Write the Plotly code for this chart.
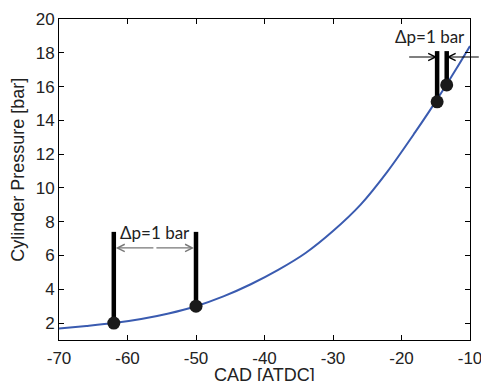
import plotly.graph_objects as go

# Cylinder pressure trace during compression
cad = [-70, -66, -62, -58, -54, -50, -46, -42, -38, -34, -30, -26, -22, -18, -16, -14, -12, -10]
pressure = [1.68, 1.83, 2.0, 2.24, 2.57, 3.0, 3.58, 4.3, 5.15, 6.15, 7.45, 9.0, 11.0, 13.3, 14.5, 15.75, 17.05, 18.4]

# Marked points: early pair and late pair, each 1 bar apart
early_cad = [-62, -50]
early_p = [2.0, 3.0]
late_cad = [-14.8, -13.4]
late_p = [15.1, 16.1]

early_bar_top = 7.4
late_bar_top = 18.1
early_arrow_p = 6.45
late_arrow_p = 17.75
late_arrow_tails = [-19.1, -8.5]
label_text = "\u0394p=1 bar"

x_ticks = [-70, -60, -50, -40, -30, -20, -10]
x_tick_text = ["-70", "-60", "-50", "-40", "-30", "-20", "-10"]
y_ticks = [2, 4, 6, 8, 10, 12, 14, 16, 18, 20]

x_title = "CAD [ATDC]"
y_title = "Cylinder Pressure [bar]"

fig = go.Figure()

fig.add_trace(go.Scatter(
    x=cad, y=pressure, mode="lines",
    line=dict(color="#3a5bb0", width=2, shape="spline", smoothing=0.8),
    hoverinfo="skip",
))

# Thick vertical markers rising from each point
for xs, ps, top in [(early_cad, early_p, early_bar_top), (late_cad, late_p, late_bar_top)]:
    for x, p in zip(xs, ps):
        fig.add_trace(go.Scatter(
            x=[x, x], y=[p, top], mode="lines",
            line=dict(color="black", width=4.5), hoverinfo="skip",
        ))

fig.add_trace(go.Scatter(
    x=early_cad + late_cad, y=early_p + late_p, mode="markers",
    marker=dict(color="#1a1a1a", size=13), hoverinfo="skip",
))

# Double-headed arrow between the early markers
mid_early = (early_cad[0] + early_cad[1]) / 2
for head in early_cad:
    fig.add_annotation(
        x=head, y=early_arrow_p, ax=mid_early, ay=early_arrow_p,
        xref="x", yref="y", axref="x", ayref="y",
        text="", showarrow=True, arrowhead=5, arrowsize=1.2,
        arrowwidth=1.2, arrowcolor="#777777", standoff=2,
    )
fig.add_annotation(
    x=mid_early, y=early_bar_top - 0.05, xref="x", yref="y",
    text=label_text, showarrow=False,
    font=dict(family="Lato", size=17, color="#222222"),
)

# Inward-pointing arrows at the late markers
for head, tail in zip(late_cad, late_arrow_tails):
    fig.add_annotation(
        x=head, y=late_arrow_p, ax=tail, ay=late_arrow_p,
        xref="x", yref="y", axref="x", ayref="y",
        text="", showarrow=True, arrowhead=5, arrowsize=1.2,
        arrowwidth=1.2, arrowcolor="black", standoff=0,
    )
fig.add_annotation(
    x=-15.8, y=18.95, xref="x", yref="y",
    text=label_text, showarrow=False,
    font=dict(family="Lato", size=17, color="#222222"),
)

# Axis titles placed as paper annotations
title_font = dict(family="Liberation Sans", size=18, color="#222222")
fig.add_annotation(
    x=0.5, y=-0.109, xref="paper", yref="paper", text=x_title,
    showarrow=False, xanchor="center", yanchor="middle", font=title_font,
)
fig.add_annotation(
    x=-0.0998, y=0.53, xref="paper", yref="paper", text=y_title,
    showarrow=False, xanchor="center", yanchor="middle", textangle=-90,
    font=title_font,
)

axis_common = dict(
    showline=True, linecolor="black", linewidth=1, mirror="ticks",
    ticks="inside", ticklen=5, tickcolor="black", showgrid=False, zeroline=False,
    tickfont=dict(family="Liberation Sans", size=17, color="#222222"),
    ticklabeloverflow="allow", automargin=False,
)

fig.update_xaxes(
    range=[-70, -10], tickvals=x_ticks, ticktext=x_tick_text,
    ticklabelstandoff=3, **axis_common,
)
fig.update_yaxes(range=[1, 20], tickvals=y_ticks, **axis_common)

fig.update_layout(
    width=481, height=381,
    margin=dict(l=59, r=11, t=19, b=41),
    paper_bgcolor="white", plot_bgcolor="white",
    showlegend=False,
)

fig.write_html("out.html")
